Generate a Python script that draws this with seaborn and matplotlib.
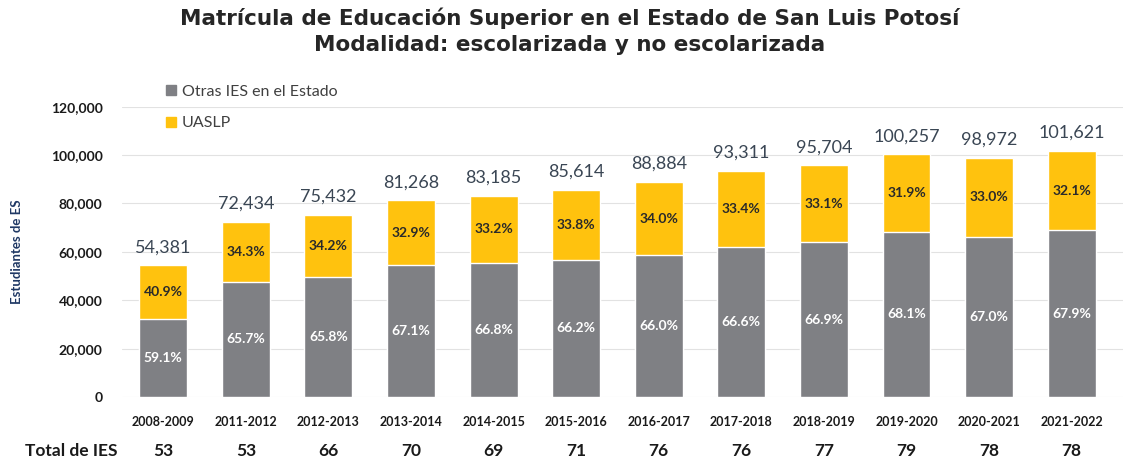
import pandas as pd
import matplotlib.pyplot as plt
import seaborn as sns
from matplotlib.patches import Patch

years = ["2008-2009", "2011-2012", "2012-2013", "2013-2014", "2014-2015", "2015-2016",
         "2016-2017", "2017-2018", "2018-2019", "2019-2020", "2020-2021", "2021-2022"]
totals = [54381, 72434, 75432, 81268, 83185, 85614, 88884, 93311, 95704, 100257, 98972, 101621]
otras_pct = [59.1, 65.7, 65.8, 67.1, 66.8, 66.2, 66.0, 66.6, 66.9, 68.1, 67.0, 67.9]
uaslp_pct = [40.9, 34.3, 34.2, 32.9, 33.2, 33.8, 34.0, 33.4, 33.1, 31.9, 33.0, 32.1]
total_ies = [53, 53, 66, 70, 69, 71, 76, 76, 77, 79, 78, 78]

df = pd.DataFrame({"year": years, "total": totals, "otras_pct": otras_pct, "uaslp_pct": uaslp_pct})
df["otras"] = df["total"] * df["otras_pct"] / 100

GRAY = "#7f8084"
YELLOW = "#FFC20E"

sns.set_style("white")
plt.rcParams["font.family"] = ["Lato", "DejaVu Sans"]

fig = plt.figure(figsize=(11.4, 4.69), dpi=100)
ax = fig.add_axes([0.107, 0.1535, 0.878, 0.619])

# yellow full height first, gray on top -> stacked look
sns.barplot(data=df, x="year", y="total", color=YELLOW, width=0.58, saturation=1, ax=ax, zorder=2)
sns.barplot(data=df, x="year", y="otras", color=GRAY, width=0.58, saturation=1, ax=ax, zorder=3)

ax.set_ylim(0, 120000)
ax.set_xlim(-0.5, 11.62)
ax.set_yticks(range(0, 120001, 20000))
ax.set_yticklabels([f"{v:,}" for v in range(0, 120001, 20000)], fontsize=10, color="#1a1a1a", fontweight="bold")
ax.tick_params(axis="x", labelsize=9, colors="#1a1a1a", length=0, pad=14)
ax.tick_params(axis="y", length=0, pad=14)
for lbl in ax.get_xticklabels():
    lbl.set_fontweight("bold")
ax.grid(axis="y", color="#e2e2e2", linewidth=0.8, zorder=0)
ax.set_axisbelow(True)
sns.despine(ax=ax, left=True, top=True, right=True, bottom=True)
ax.set_xlabel("")
ax.set_ylabel("Estudiantes de ES", fontsize=9.5, color="#1f3864", fontweight="bold", labelpad=20)

for i, row in df.iterrows():
    ax.text(i, row["total"] + 4200, f"{row['total']:,}", ha="center", va="bottom",
            fontsize=13, color="#3a4654")
    ax.text(i, row["otras"] / 2, f"{row['otras_pct']:.1f}%", ha="center", va="center",
            fontsize=10, color="white", fontweight="bold", zorder=5)
    ax.text(i, (row["otras"] + row["total"]) / 2, f"{row['uaslp_pct']:.1f}%", ha="center", va="center",
            fontsize=10, color="#2a2a2a", fontweight="bold", zorder=5)
    ax.text(i, -0.185, f"{total_ies[i]}", transform=ax.get_xaxis_transform(), ha="center", va="center",
            fontsize=12.5, fontweight="bold", color="#1a1a1a")

ax.text(-0.55, -0.185, "Total de IES", transform=ax.get_xaxis_transform(), ha="right", va="center",
        fontsize=12.5, fontweight="bold", color="#1a1a1a")

handles = [Patch(color=GRAY, label="Otras IES en el Estado"), Patch(color=YELLOW, label="UASLP")]
fig.legend(handles=handles, loc="upper left", bbox_to_anchor=(0.133, 0.85), frameon=False,
           fontsize=11.5, handlelength=0.6, handleheight=0.6, handletextpad=0.4, labelspacing=1.1,
           labelcolor="#404040")

fig.text(0.5, 0.985, "Matrícula de Educación Superior en el Estado de San Luis Potosí\nModalidad: escolarizada y no escolarizada",
         ha="center", va="top", fontsize=15.5, fontweight="bold", color="#262626", linespacing=1.4,
         family=["DejaVu Sans"])

plt.savefig("out.png", dpi=100)
